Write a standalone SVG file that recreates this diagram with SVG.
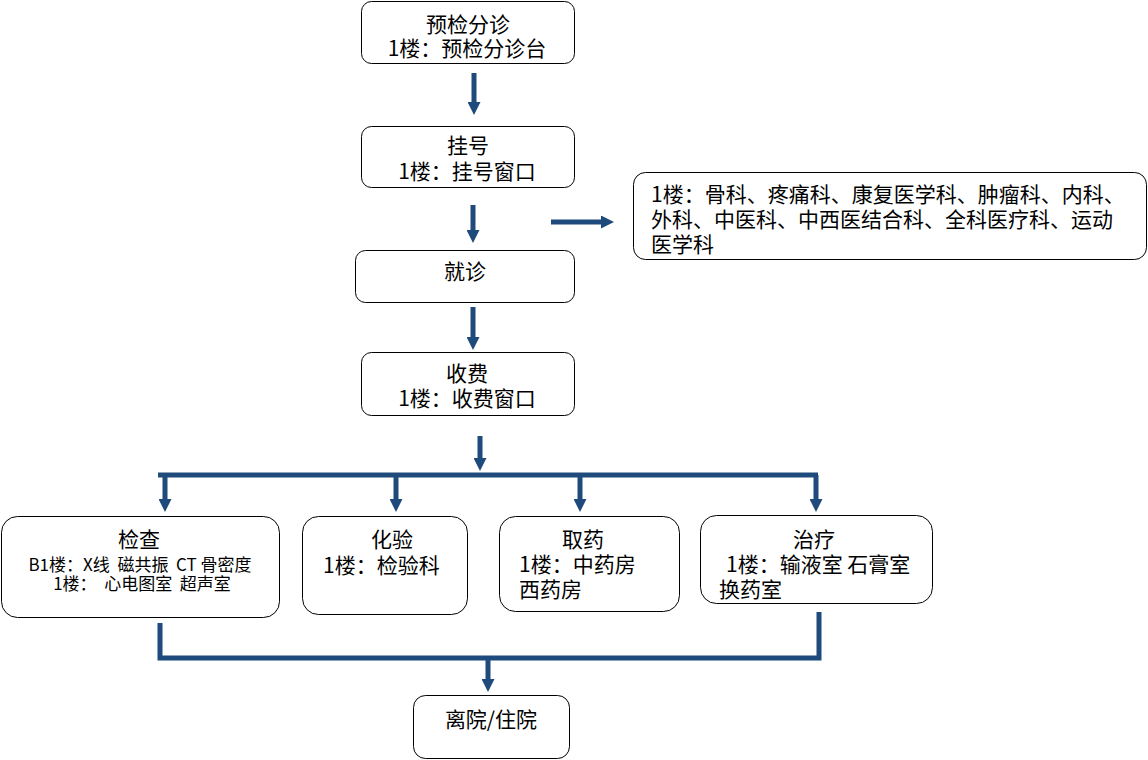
<svg xmlns="http://www.w3.org/2000/svg" width="1148" height="760" viewBox="0 0 1148 760">
<style>
.box{fill:#fff;stroke:#000;stroke-width:1}
.t{font-family:"Microsoft YaHei","Noto Sans CJK SC",sans-serif;font-size:21px;fill:#000}
.s{font-family:"Microsoft YaHei","Noto Sans CJK SC",sans-serif;font-size:17px;fill:#000;white-space:pre}
.c{text-anchor:middle}
.ln{fill:none;stroke:#1f4a7c;stroke-width:5}
</style>
<defs>
<marker id="ah" viewBox="0 0 10 10" refX="0" refY="5" markerWidth="2.6" markerHeight="2.6" orient="auto" markerUnits="strokeWidth">
<path d="M0,0 L10,5 L0,10 z" fill="#1f4a7c"/>
</marker>
</defs>
<rect width="1148" height="760" fill="#fff"/>
<g id="connectors">
<line class="ln" x1="474" y1="73" x2="474" y2="102" marker-end="url(#ah)"/>
<line class="ln" x1="473" y1="205" x2="473" y2="230" marker-end="url(#ah)"/>
<line class="ln" x1="551" y1="222" x2="601" y2="222" marker-end="url(#ah)"/>
<line class="ln" x1="473" y1="307" x2="473" y2="337" marker-end="url(#ah)"/>
<line class="ln" x1="480" y1="436" x2="480" y2="458" marker-end="url(#ah)"/>
<polyline class="ln" points="158,475 818,475"/>
<line class="ln" x1="165" y1="475" x2="165" y2="499" marker-end="url(#ah)"/>
<line class="ln" x1="396" y1="475" x2="396" y2="499" marker-end="url(#ah)"/>
<line class="ln" x1="580" y1="475" x2="580" y2="499" marker-end="url(#ah)"/>
<line class="ln" x1="816" y1="475" x2="816" y2="499" marker-end="url(#ah)"/>
<polyline class="ln" points="160,623 160,658 819,658 819,612"/>
<line class="ln" x1="488" y1="658" x2="488" y2="679" marker-end="url(#ah)"/>
</g>
<g id="n1">
<rect class="box" x="361.5" y="1.5" width="213" height="62" rx="10"/>
<text class="t c" x="468" y="32">预检分诊</text>
<text class="t c" x="467" y="56">1楼：预检分诊台</text>
</g>
<g id="n2">
<rect class="box" x="361.5" y="126.5" width="213" height="61" rx="10"/>
<text class="t c" x="468" y="153">挂号</text>
<text class="t c" x="467" y="179">1楼：挂号窗口</text>
</g>
<g id="n3">
<rect class="box" x="355.5" y="250.5" width="219" height="52" rx="10"/>
<text class="t c" x="465" y="279">就诊</text>
</g>
<g id="n4">
<rect class="box" x="361.5" y="352.5" width="213" height="63" rx="10"/>
<text class="t c" x="467" y="381">收费</text>
<text class="t c" x="467" y="406">1楼：收费窗口</text>
</g>
<g id="n5">
<rect class="box" x="633.5" y="172.5" width="513" height="87" rx="12"/>
<text class="t" x="651" y="202">1楼：骨科、疼痛科、康复医学科、肿瘤科、内科、</text>
<text class="t" x="651" y="227">外科、中医科、中西医结合科、全科医疗科、运动</text>
<text class="t" x="651" y="252">医学科</text>
</g>
<g id="n6">
<rect class="box" x="1.5" y="516.5" width="278" height="101" rx="16"/>
<text class="t c" x="139" y="547">检查</text>
<text class="s c" x="140" y="571" xml:space="preserve">B1楼：X线  磁共振  CT 骨密度</text>
<text class="s c" x="142" y="590" xml:space="preserve">1楼：  心电图室  超声室</text>
</g>
<g id="n7">
<rect class="box" x="302.5" y="516.5" width="165" height="98" rx="16"/>
<text class="t c" x="392" y="547">化验</text>
<text class="t" x="323" y="573">1楼：检验科</text>
</g>
<g id="n8">
<rect class="box" x="499.5" y="516.5" width="180" height="95" rx="16"/>
<text class="t c" x="583" y="547">取药</text>
<text class="t" x="519" y="572">1楼：中药房</text>
<text class="t" x="519" y="597">西药房</text>
</g>
<g id="n9">
<rect class="box" x="700.5" y="515.5" width="232" height="88" rx="16"/>
<text class="t c" x="814" y="547">治疗</text>
<text class="t" x="726" y="572">1楼：输液室 石膏室</text>
<text class="t" x="719" y="597">换药室</text>
</g>
<g id="n10">
<rect class="box" x="413.5" y="695.5" width="156" height="63" rx="12"/>
<text class="t c" x="491" y="727">离院/住院</text>
</g>
</svg>
